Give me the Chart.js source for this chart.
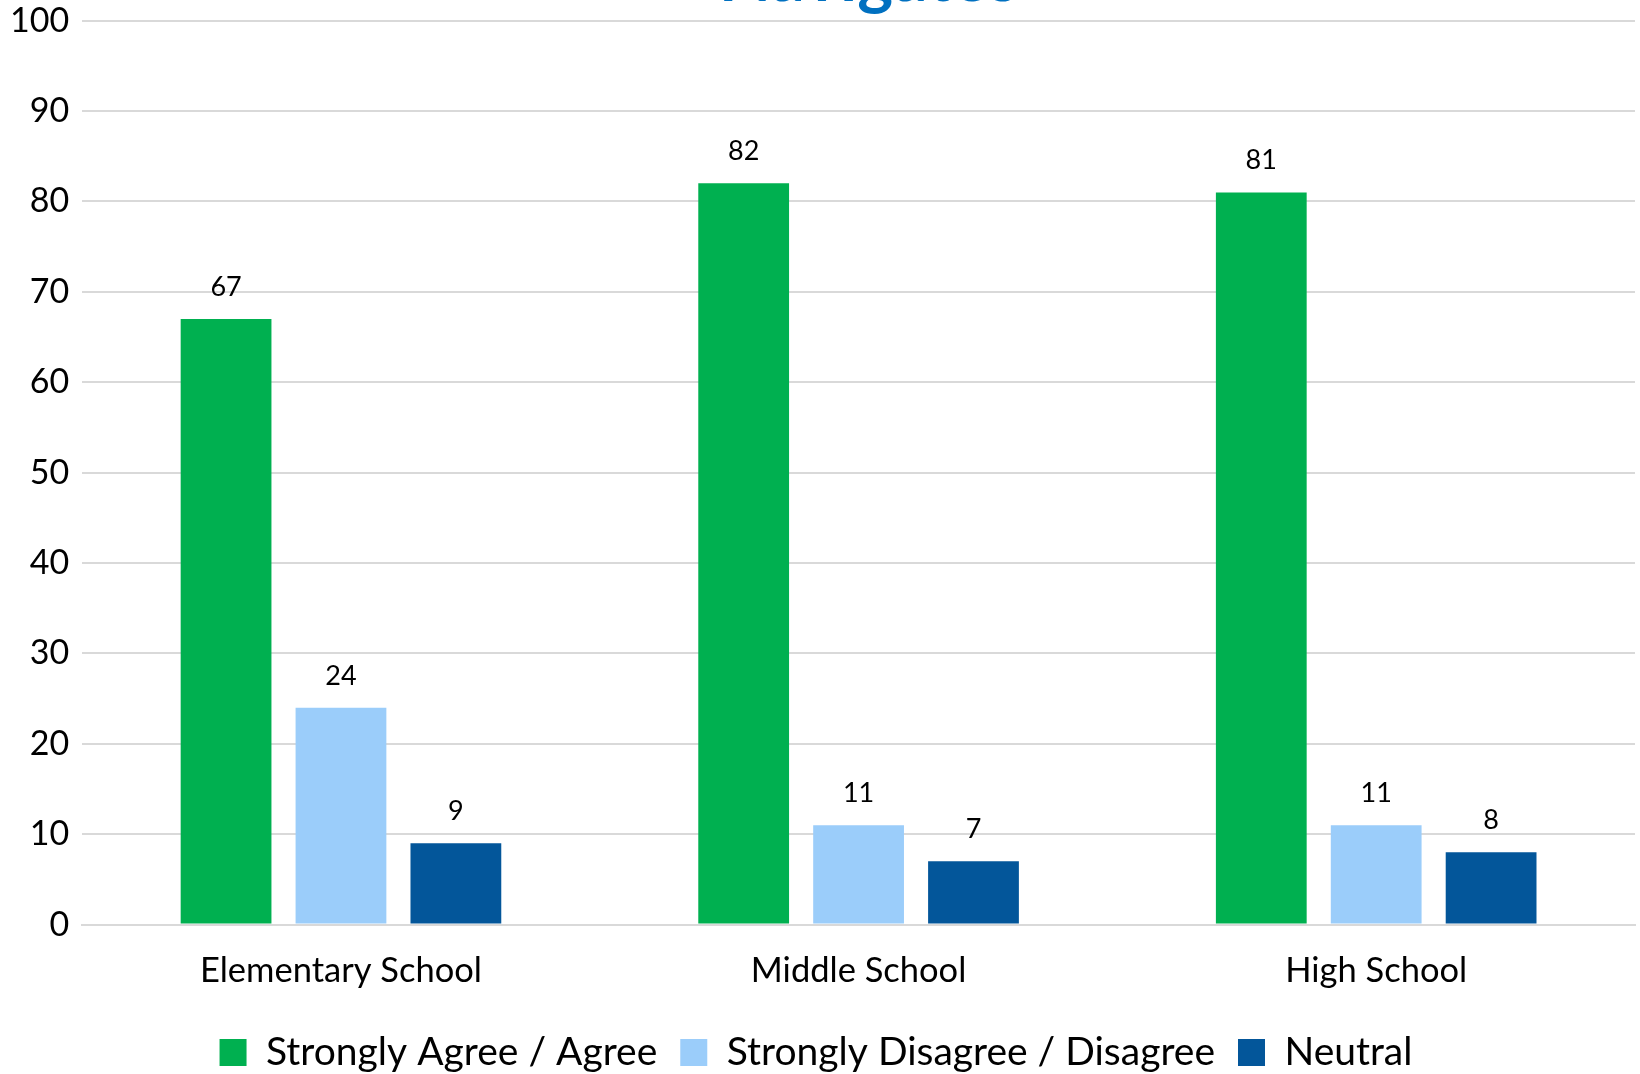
<!DOCTYPE html>
<html>
<head>
<meta charset="utf-8">
<script src="https://cdn.jsdelivr.net/npm/chart.js@4.4.1/dist/chart.umd.min.js"></script>
<style>
  html, body { margin: 0; padding: 0; background: #fff; }
  #wrap { width: 1640px; height: 1074px; position: relative; }
</style>
</head>
<body>
<div id="wrap"><canvas id="survey-chart"></canvas></div>
<script>
var titleText = "Navigates";
var categories = ["Elementary School", "Middle School", "High School"];
var seriesNames = ["Strongly Agree / Agree", "Strongly Disagree / Disagree", "Neutral"];
var agreeValues = [67, 82, 81];
var disagreeValues = [24, 11, 11];
var neutralValues = [9, 7, 8];
var yTicks = [0, 10, 20, 30, 40, 50, 60, 70, 80, 90, 100];

var colors = ["#00B050", "#9BCDFA", "#03569A"];
var fontFamily = "Lato, 'Open Sans', sans-serif";

// values over each bar
var valueLabels = {
  id: "valueLabels",
  afterDatasetsDraw: function (chart) {
    var ctx = chart.ctx;
    ctx.save();
    ctx.font = "27px " + fontFamily;
    ctx.fillStyle = "#000";
    ctx.textAlign = "center";
    ctx.textBaseline = "alphabetic";
    chart.data.datasets.forEach(function (ds, i) {
      chart.getDatasetMeta(i).data.forEach(function (bar, j) {
        ctx.fillText(ds.data[j], bar.x, bar.y - 23);
      });
    });
    ctx.restore();
  }
};

// title sits mostly above the visible area, only its bottom shows
var cutTitle = {
  id: "cutTitle",
  afterDraw: function (chart) {
    var ctx = chart.ctx;
    var area = chart.chartArea;
    ctx.save();
    ctx.font = "bold 68px " + fontFamily;
    ctx.fillStyle = "#0070C0";
    ctx.textAlign = "center";
    ctx.textBaseline = "alphabetic";
    ctx.fillText(titleText, (area.left + area.right) / 2 + 10, 1);
    ctx.restore();
  }
};

// legend takes less room than chart.js gives it, so the plot reaches lower
var legendSqueeze = {
  id: "legendSqueeze",
  afterInit: function (chart) {
    var lg = chart.legend;
    var fit = lg.fit;
    lg.fit = function () {
      fit.call(lg);
      lg.height -= 16;
    };
  },
  afterLayout: function (chart) {
    // only the top moves, so the clip box still reaches the canvas bottom
    chart.legend.top -= 8;
  }
};

var ctx = document.getElementById("survey-chart").getContext("2d");
var chart = new Chart(ctx, {
  type: "bar",
  data: {
    labels: categories,
    datasets: [
      { label: seriesNames[0], data: agreeValues, backgroundColor: colors[0] },
      { label: seriesNames[1], data: disagreeValues, backgroundColor: colors[1] },
      { label: seriesNames[2], data: neutralValues, backgroundColor: colors[2] }
    ]
  },
  options: {
    responsive: true,
    maintainAspectRatio: false,
    animation: false,
    devicePixelRatio: 1,
    layout: { padding: { top: 0, right: 5, left: -3, bottom: 0 } },
    datasets: {
      bar: { categoryPercentage: 0.666, barPercentage: 0.79 }
    },
    plugins: {
      legend: {
        position: "bottom",
        labels: {
          color: "#000",
          font: { family: fontFamily, size: 39 },
          boxWidth: 27,
          boxHeight: 27,
          padding: 23
        }
      },
      tooltip: { enabled: false },
      title: { display: false }
    },
    scales: {
      x: {
        grid: { display: false, drawTicks: false },
        border: { display: true, color: "#D9D9D9", width: 2 },
        ticks: { color: "#000", font: { family: fontFamily, size: 34.5 }, padding: 26 }
      },
      y: {
        min: 0,
        max: 100,
        afterBuildTicks: function (axis) {
          axis.ticks = yTicks.map(function (v) { return { value: v }; });
        },
        grid: { color: "#D9D9D9", lineWidth: 2, drawTicks: false },
        border: { display: false },
        ticks: { color: "#000", font: { family: fontFamily, size: 34, lineHeight: 0.45 }, padding: 13 }
      }
    }
  },
  plugins: [valueLabels, cutTitle, legendSqueeze]
});
</script>
</body>
</html>
